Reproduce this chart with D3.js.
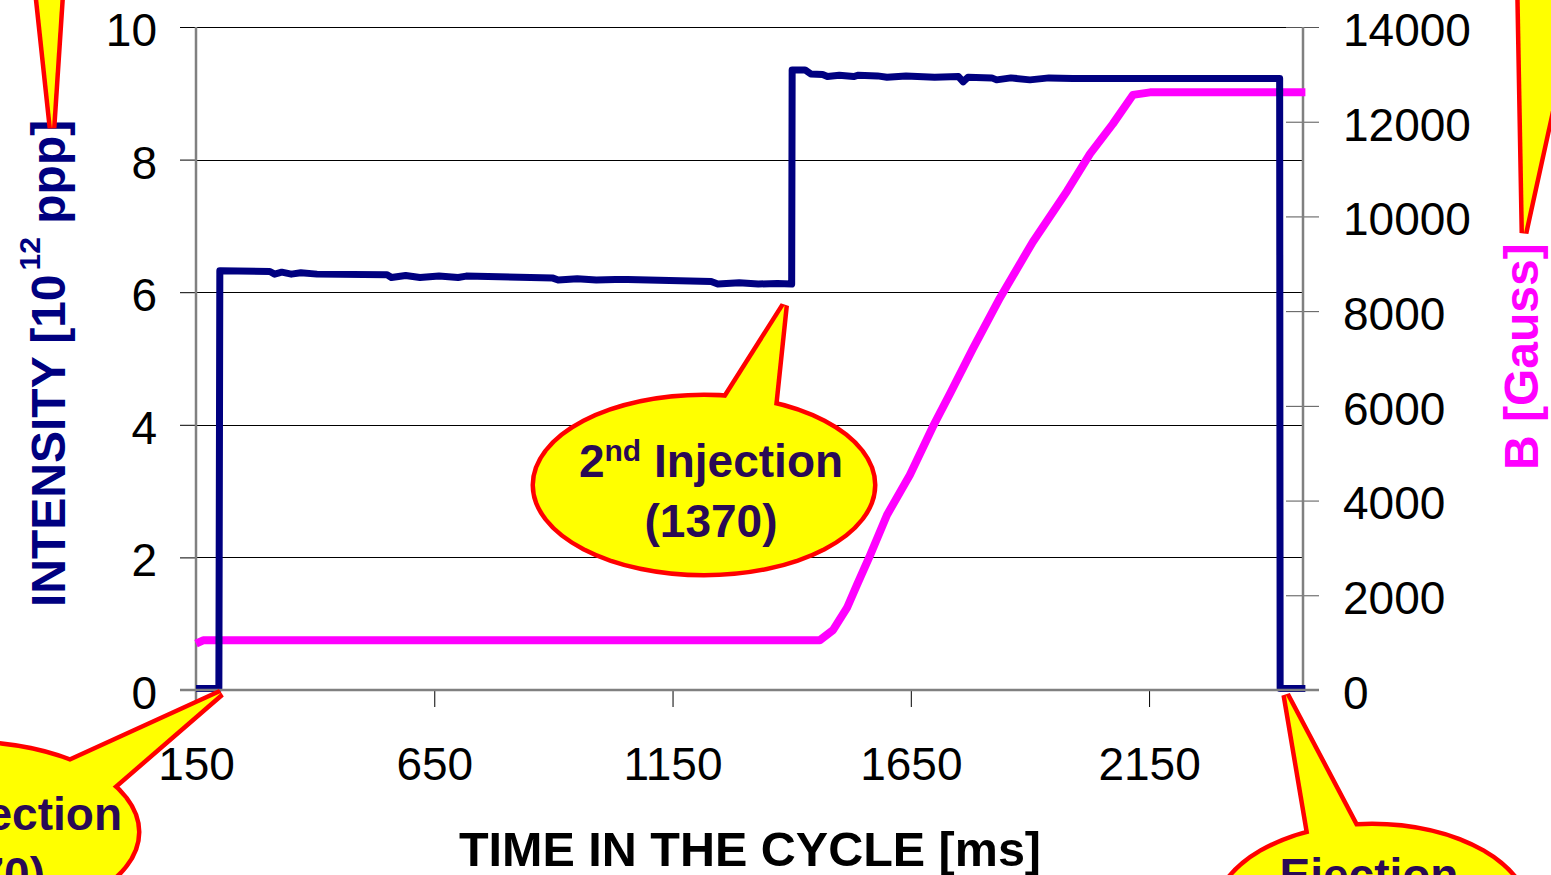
<!DOCTYPE html>
<html>
<head>
<meta charset="utf-8">
<script src="https://cdn.jsdelivr.net/npm/d3@7"></script>
<style>
  body { margin: 0; background: #fff; }
  svg { display: block; font-family: "Liberation Sans", Arial, sans-serif; }
</style>
</head>
<body>
<script>
// beam intensity and magnetic field over one cycle

// axis ticks
var xTicks = [150, 650, 1150, 1650, 2150];
var xDomain = [150, 2473];
var leftTicks = [0, 2, 4, 6, 8, 10];
var rightTicks = [0, 2000, 4000, 6000, 8000, 10000, 12000, 14000];

// intensity [10^12 ppp]
var intensityTime = [150, 198, 200, 305, 315, 330, 350, 370, 404, 551, 560, 590, 620, 660, 700, 717,
  899, 910, 950, 990, 1030, 1056, 1231, 1245, 1290, 1330, 1370, 1400, 1401, 1428, 1440, 1465, 1475,
  1500, 1530, 1540, 1580, 1600, 1640, 1700, 1750, 1760, 1770, 1820, 1830, 1860, 1900, 1940, 1990,
  2424, 2425, 2478];
var intensityValue = [0, 0, 6.30, 6.29, 6.25, 6.28, 6.25, 6.27, 6.25, 6.24, 6.20, 6.23, 6.20, 6.22, 6.20, 6.22,
  6.19, 6.16, 6.18, 6.16, 6.17, 6.17, 6.14, 6.10, 6.12, 6.10, 6.11, 6.10, 9.33, 9.33, 9.27, 9.26, 9.23,
  9.25, 9.23, 9.25, 9.24, 9.22, 9.24, 9.22, 9.23, 9.15, 9.22, 9.21, 9.18, 9.21, 9.18, 9.21, 9.20,
  9.20, 0, 0];

// B field [Gauss]
var fieldTime = [150, 165, 1459, 1487, 1516, 1537, 1564, 1600, 1648, 1696, 1732, 1780, 1837, 1906,
  1978, 2026, 2074, 2116, 2152, 2478];
var fieldValue = [980, 1050, 1050, 1267, 1732, 2218, 2830, 3696, 4541, 5555, 6252, 7202, 8279, 9462,
  10539, 11320, 11954, 12566, 12620, 12620];

var width = 1551, height = 875;
var plot = {left: 196, right: 1303, top: 27, bottom: 690};

var svg = d3.select("body").append("svg")
    .attr("width", width)
    .attr("height", height);

var x = d3.scaleLinear().domain(xDomain).range([plot.left, plot.right]),
    yL = d3.scaleLinear().domain([0, 10]).range([plot.bottom, plot.top]),
    yR = d3.scaleLinear().domain([0, 14000]).range([plot.bottom, plot.top]);

// gridlines
svg.append("g").selectAll("line")
  .data(leftTicks.slice(1))
  .enter().append("line")
    .attr("x1", plot.left).attr("x2", plot.right)
    .attr("y1", function(d) { return Math.round(yL(d)) + 0.5; })
    .attr("y2", function(d) { return Math.round(yL(d)) + 0.5; })
    .attr("stroke", "#000").attr("stroke-width", 1);

// left axis
var gl = svg.append("g")
    .attr("transform", "translate(" + plot.left + ",0)")
    .call(d3.axisLeft(yL).tickValues(leftTicks).tickFormat(d3.format("d")).tickSize(16).tickPadding(23));
gl.select(".domain").remove();
gl.selectAll(".tick line").attr("stroke", "#000");
gl.selectAll("text").attr("font-size", 46).attr("font-family", null).attr("dy", "0.40em").attr("fill", "#000");

// right axis
var gr = svg.append("g")
    .attr("transform", "translate(" + (plot.right - 17) + ",0)")
    .call(d3.axisRight(yR).tickValues(rightTicks).tickFormat(d3.format("d")).tickSize(33).tickPadding(24));
gr.select(".domain").remove();
gr.selectAll(".tick line").attr("stroke", "#555");
gr.selectAll("text").attr("font-size", 46).attr("font-family", null).attr("dy", "0.40em").attr("fill", "#000");

// bottom axis
var gb = svg.append("g")
    .attr("transform", "translate(0," + plot.bottom + ")")
    .call(d3.axisBottom(x).tickValues(xTicks).tickFormat(d3.format("d")).tickSize(17).tickPadding(40));
gb.select(".domain").remove();
gb.selectAll(".tick line").attr("stroke", "#000");
gb.selectAll("text").attr("font-size", 46).attr("font-family", null).attr("fill", "#000");

// plot frame (left / right axis lines)
svg.append("line")
    .attr("x1", plot.left).attr("x2", plot.left)
    .attr("y1", plot.top).attr("y2", plot.bottom + 17)
    .attr("stroke", "#808080").attr("stroke-width", 2.5);
svg.append("line")
    .attr("x1", plot.right).attr("x2", plot.right)
    .attr("y1", plot.top).attr("y2", plot.bottom)
    .attr("stroke", "#808080").attr("stroke-width", 2.5);

// series
var intensity = intensityTime.map(function(t, i) { return [t, intensityValue[i]]; });
var field = fieldTime.map(function(t, i) { return [t, fieldValue[i]]; });

svg.append("path")
    .datum(field)
    .attr("fill", "none")
    .attr("stroke", "#ff00ff")
    .attr("stroke-width", 8)
    .attr("stroke-linejoin", "round")
    .attr("d", d3.line().x(function(d) { return x(d[0]); }).y(function(d) { return yR(d[1]); }));

svg.append("path")
    .datum(intensity)
    .attr("fill", "none")
    .attr("stroke", "#000080")
    .attr("stroke-width", 7)
    .attr("stroke-linejoin", "round")
    .attr("d", d3.line().x(function(d) { return x(d[0]); }).y(function(d) { return yL(d[1]) - 1.5; }));

// x axis line on top
svg.append("line")
    .attr("x1", plot.left - 16).attr("x2", plot.right + 16)
    .attr("y1", plot.bottom).attr("y2", plot.bottom)
    .attr("stroke", "#808080").attr("stroke-width", 2.5);

// axis titles
svg.append("text")
    .attr("x", 750).attr("y", 866)
    .attr("text-anchor", "middle")
    .attr("font-size", 48.5).attr("font-weight", "bold")
    .text("TIME IN THE CYCLE [ms]");

var yt = svg.append("text")
    .attr("transform", "translate(65,607) rotate(-90)")
    .attr("font-size", 48).attr("font-weight", "bold")
    .attr("fill", "#000080");
yt.append("tspan").text("INTENSITY [10");
yt.append("tspan").attr("font-size", 30).attr("dy", -25).attr("dx", 4).text("12");
yt.append("tspan").attr("dy", 25).text(" ppp]");

svg.append("text")
    .attr("transform", "translate(1538,470) rotate(-90)")
    .attr("font-size", 48).attr("font-weight", "bold")
    .attr("fill", "#ff00ff")
    .text("B [Gauss]");

// callouts
var textColor = "#2a0a55";

function callout(ell, pointer, lines) {
  var g = svg.append("g");
  // outline pass, then fill pass
  [["#ff0000", 9], ["#ffff00", 0]].forEach(function(p) {
    if (ell) g.append("ellipse")
        .attr("cx", ell[0]).attr("cy", ell[1]).attr("rx", ell[2]).attr("ry", ell[3])
        .attr("fill", p[0]).attr("stroke", p[1] ? "#ff0000" : "none").attr("stroke-width", p[1]);
    g.append("polygon")
        .attr("points", pointer.map(function(q) { return q.join(","); }).join(" "))
        .attr("fill", p[0]).attr("stroke", p[1] ? "#ff0000" : "none").attr("stroke-width", p[1])
        .attr("stroke-linejoin", "miter");
  });
  lines.forEach(function(l) {
    var t = g.append("text")
        .attr("x", l.x).attr("y", l.y)
        .attr("text-anchor", l.anchor || "middle")
        .attr("font-size", 46).attr("font-weight", "bold")
        .attr("fill", textColor);
    if (l.sup) {
      t.append("tspan").text(l.pre);
      t.append("tspan").attr("font-size", 30).attr("dy", -16).text(l.sup);
      t.append("tspan").attr("dy", 16).text(l.post);
    } else {
      t.text(l.text);
    }
  });
}

// 1st injection (bottom left, mostly off the picture)
var tip1 = [x(200) + 1, yL(0) + 3];
callout([-32, 832, 169, 88],
  [[63, 765], tip1, [103, 795]],
  [{x: 122, y: 830, anchor: "end", pre: "1", sup: "st", post: " Injection"},
   {x: 45, y: 890, anchor: "end", text: "(170)"}]);

// 2nd injection
var tip2 = [x(1385), yL(6.1) + 20];
callout([704, 485, 169, 88],
  [[712, 420], tip2, [772, 425]],
  [{x: 711, y: 477, pre: "2", sup: "nd", post: " Injection"},
   {x: 711, y: 537, text: "(1370)"}]);

// ejection
var tip3 = [x(2437), yL(0) + 5];
callout([1372, 916, 156, 90],
  [[1312, 850], tip3, [1365, 845]],
  [{x: 1369, y: 891, text: "Ejection"}]);

// pointers coming in from balloons above the picture
callout(null, [[34, -40], [52, 128], [63, -40]], []);
callout(null, [[1519, -40], [1524, 233], [1584, -40]], []);
</script>
</body>
</html>
